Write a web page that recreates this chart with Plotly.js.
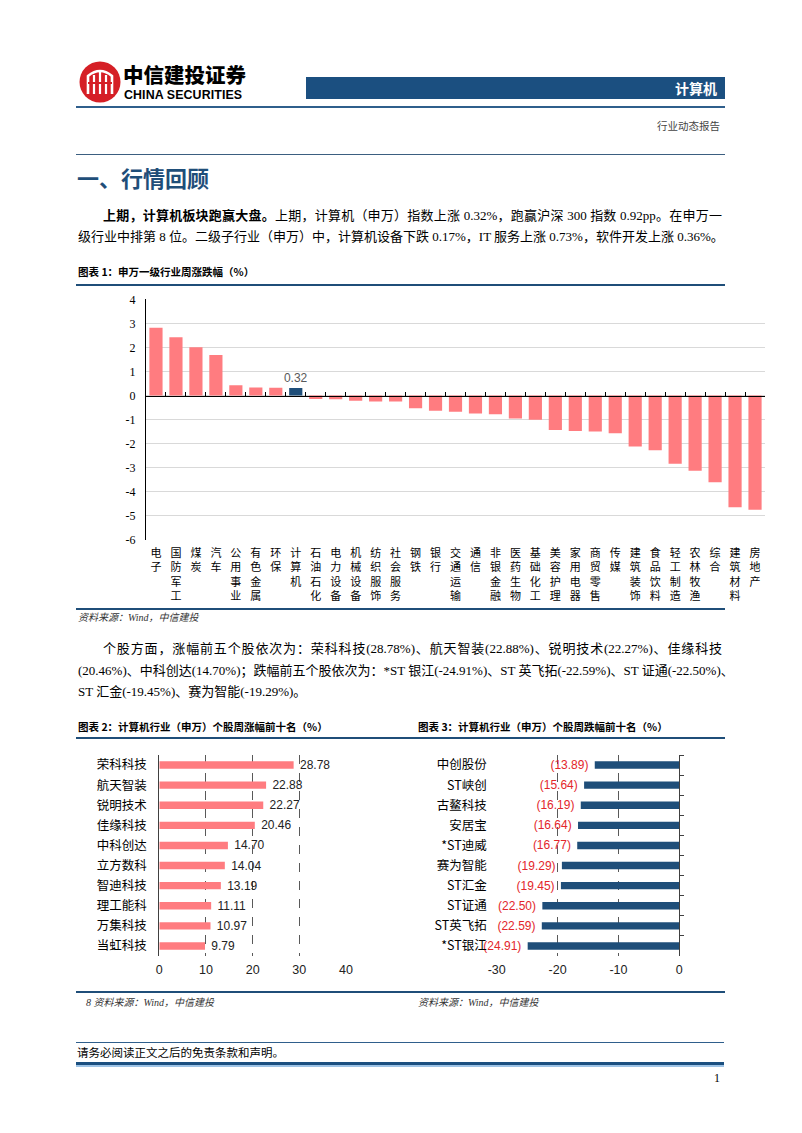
<!DOCTYPE html>
<html>
<head>
<meta charset="utf-8">
<script src="https://cdn.plot.ly/plotly-3.0.1.min.js"></script>
<style>
  body { margin: 0; background: #fff; }
  #page { position: relative; width: 802px; height: 1133px; overflow: hidden; background: #fff;
          font-family: "Liberation Serif", "Noto Sans CJK SC", serif; color: #000; }
  #plot { position: absolute; left: 0; top: 0; width: 802px; height: 1133px; }
  .t { position: absolute; white-space: nowrap; }
  .ln { position: absolute; background: #1F4E79; }
  .para { position: absolute; font-size: 13px; line-height: 20px; height: 20px; white-space: nowrap;
          text-align: justify; text-align-last: justify; }
  .para b { font-family: "Noto Sans CJK SC", sans-serif; font-weight: 700; }
  .figt { position: absolute; font-family: "Noto Sans CJK SC", sans-serif; font-weight: 700; font-size: 10.5px;
          line-height: 14px; white-space: nowrap; }
  .src { position: absolute; font-style: italic; font-size: 10px; line-height: 14px; color: #333; white-space: nowrap; }
</style>
</head>
<body>
<div id="page">
  <div id="plot"></div>

  <!-- header -->
  <svg class="t" style="left:79px;top:61px" width="42" height="42" viewBox="0 0 42 42">
    <circle cx="21" cy="21" r="20.5" fill="#D51F26"/>
    <path d="M9 33 V15 Q21 5 33 15 V33" fill="none" stroke="#fff" stroke-width="2.6"/>
    <line x1="15" y1="14" x2="15" y2="33" stroke="#fff" stroke-width="2.2"/>
    <line x1="21" y1="11" x2="21" y2="33" stroke="#fff" stroke-width="2.2"/>
    <line x1="27" y1="14" x2="27" y2="33" stroke="#fff" stroke-width="2.2"/>
    <line x1="9" y1="22" x2="33" y2="22" stroke="#D51F26" stroke-width="2"/>
  </svg>
  <div class="t" style="left:123px;top:63px;font-family:'Noto Sans CJK SC',sans-serif;font-weight:900;font-size:20.5px;line-height:22px;">中信建投证券</div>
  <div class="t" style="left:124px;top:88.5px;font-family:'Liberation Sans',Arial,sans-serif;font-weight:700;font-size:12.4px;line-height:12px;letter-spacing:0.1px;">CHINA SECURITIES</div>
  <div class="t" style="left:306px;top:77px;width:419px;height:22px;background:#1B4F80;"></div>
  <div class="t" style="left:640px;top:77px;width:77px;height:22px;line-height:22px;text-align:right;color:#fff;font-family:'Noto Sans CJK SC',sans-serif;font-weight:700;font-size:14px;">计算机</div>
  <div class="ln" style="left:76px;top:106px;width:649px;height:1.5px;background:#2F5F8C;"></div>
  <div class="t" style="left:657px;top:120px;font-size:10.5px;line-height:14px;color:#444;">行业动态报告</div>

  <div class="ln" style="left:76px;top:153.5px;width:649px;height:1.5px;background:#3B5E80;"></div>
  <div class="t" style="left:77px;top:162px;font-family:'Noto Sans CJK SC',sans-serif;font-weight:700;font-size:22px;line-height:30px;color:#1F4E79;">一、行情回顾</div>

  <div class="para" style="left:103px;top:205px;width:619px;"><b>上期，计算机板块跑赢大盘。</b>上期，计算机（申万）指数上涨 0.32%，跑赢沪深 300 指数 0.92pp。在申万一</div>
  <div class="para" style="left:78px;top:227px;width:641px;">级行业中排第 8 位。二级子行业（申万）中，计算机设备下跌 0.17%，IT 服务上涨 0.73%，软件开发上涨 0.36%。</div>

  <div class="figt" style="left:78px;top:265px;">图表 1：申万一级行业周涨跌幅（%）</div>
  <div class="ln" style="left:76px;top:284px;width:649px;height:1.5px;"></div>
  <div class="ln" style="left:76px;top:608px;width:649px;height:1.5px;"></div>
  <div class="src" style="left:78px;top:611px;">资料来源：Wind，中信建投</div>

  <div class="para" style="left:103px;top:639px;width:619px;">个股方面，涨幅前五个股依次为：荣科科技(28.78%)、航天智装(22.88%)、锐明技术(22.27%)、佳缘科技</div>
  <div class="para" style="left:78px;top:661px;width:644px;">(20.46%)、中科创达(14.70%)；跌幅前五个股依次为：*ST 银江(-24.91%)、ST 英飞拓(-22.59%)、ST 证通(-22.50%)、</div>
  <div class="para" style="left:78px;top:682px;width:400px;text-align:left;text-align-last:left;">ST 汇金(-19.45%)、赛为智能(-19.29%)。</div>

  <div class="figt" style="left:78px;top:720px;">图表 2：计算机行业（申万）个股周涨幅前十名（%）</div>
  <div class="figt" style="left:418px;top:720px;">图表 3：计算机行业（申万）个股周跌幅前十名（%）</div>
  <div class="ln" style="left:76px;top:737px;width:649px;height:1.5px;"></div>

  <div class="ln" style="left:76px;top:991px;width:649px;height:1.5px;"></div>
  <div class="src" style="left:86px;top:996px;">8 资料来源：Wind，中信建投</div>
  <div class="src" style="left:418px;top:996px;">资料来源：Wind，中信建投</div>

  <!-- footer -->
  <div class="ln" style="left:76px;top:1042px;width:648px;height:1px;background:#2F5F8C;"></div>
  <div class="t" style="left:77px;top:1046px;font-size:11.5px;line-height:15px;">请务必阅读正文之后的免责条款和声明。</div>
  <div class="ln" style="left:76px;top:1062px;width:648px;height:3px;background:#1B4F80;"></div>
  <div class="ln" style="left:76px;top:1065px;width:648px;height:1.5px;background:#9DC3E6;"></div>
  <div class="t" style="left:714px;top:1070px;font-size:12px;line-height:16px;">1</div>
</div>

<script>
// ---------------- data ----------------
const industries = ['电子','国防军工','煤炭','汽车','公用事业','有色金属','环保','计算机','石油石化','电力设备',
  '机械设备','纺织服饰','社会服务','钢铁','银行','交通运输','通信','非银金融','医药生物','基础化工',
  '美容护理','家用电器','商贸零售','传媒','建筑装饰','食品饮料','轻工制造','农林牧渔','综合','建筑材料','房地产'];
const weekChange = [2.82, 2.42, 2.01, 1.69, 0.43, 0.34, 0.33, 0.32, -0.14, -0.15,
  -0.21, -0.25, -0.25, -0.53, -0.63, -0.67, -0.74, -0.78, -0.95, -1.00,
  -1.43, -1.47, -1.49, -1.57, -2.12, -2.27, -2.83, -3.12, -3.60, -4.64, -4.74];
const highlightIndustry = '计算机';
const chart1YTicks = [4, 3, 2, 1, 0, -1, -2, -3, -4, -5, -6];
const chart1YTickText = ['4','3','2','1','0','-1','-2','-3','-4','-5','-6'];

const gainers = ['荣科科技','航天智装','锐明技术','佳缘科技','中科创达','立方数科','智迪科技','理工能科','万集科技','当虹科技'];
const gainValues = [28.78, 22.88, 22.27, 20.46, 14.70, 14.04, 13.19, 11.11, 10.97, 9.79];
const gainXTicks = [0, 10, 20, 30, 40];

const losers = ['中创股份','ST峡创','古鳌科技','安居宝','*ST迪威','赛为智能','ST汇金','ST证通','ST英飞拓','*ST银江'];
const lossValues = [-13.89, -15.64, -16.19, -16.64, -16.77, -19.29, -19.45, -22.50, -22.59, -24.91];
const lossXTicks = [-30, -20, -10, 0];
const lossXTickText = ['-30', '-20', '-10', '0'];

// ---------------- geometry ----------------
const W = 802, H = 1133;
const fx = px => px / W;
const fy = py => 1 - py / H;
const PINK = '#FF7C80', NAVY = '#1F4E79';
const CJK = 'Noto Sans CJK SC, sans-serif';
const SANS = 'Liberation Sans, Arial, sans-serif';
const SERIF = 'Liberation Serif, Noto Sans CJK SC, serif';

const c1 = {l: 146, r: 765, t: 299.3, b: 540};
const y1Range = [-6, 4];
const zeroPos = fy(c1.b) + (0 - y1Range[0]) / (y1Range[1] - y1Range[0]) * (fy(c1.t) - fy(c1.b));
const c2 = {l: 159.3, r: 346, t: 755, b: 956};
const c3 = {l: 496.7, r: 679.3, t: 755, b: 956};

const vertLabels = industries.map(s => s.split('').join('<br>'));
const barColors = industries.map(s => s === highlightIndustry ? NAVY : PINK);
const barText = industries.map((s, i) => s === highlightIndustry ? weekChange[i].toFixed(2) : '');

const nbsp = '\u00a0';
const traces = [
  { type: 'bar', x: industries, y: weekChange, xaxis: 'x', yaxis: 'y', width: 0.66,
    marker: {color: barColors}, text: barText, textposition: 'outside', cliponaxis: false, constraintext: 'none',
    textfont: {family: SANS, size: 12, color: '#595959'}, hoverinfo: 'skip' },
  { type: 'bar', x: industries, y: weekChange, xaxis: 'x2', yaxis: 'y', width: 0.66,
    marker: {color: 'rgba(0,0,0,0)'}, hoverinfo: 'skip' },
  { type: 'bar', orientation: 'h', y: gainers, x: gainValues, xaxis: 'x3', yaxis: 'y3', width: 0.37,
    marker: {color: PINK}, text: gainValues.map(v => nbsp + v.toFixed(2)), textposition: 'outside',
    constraintext: 'none', cliponaxis: false, textfont: {family: SANS, size: 12, color: '#222'}, hoverinfo: 'skip' },
  { type: 'bar', orientation: 'h', y: losers, x: lossValues, xaxis: 'x4', yaxis: 'y4', width: 0.37,
    marker: {color: NAVY}, text: lossValues.map(v => '(' + Math.abs(v).toFixed(2) + ')' + nbsp), textposition: 'outside',
    constraintext: 'none', cliponaxis: false, textfont: {family: SANS, size: 12, color: '#E3262B'}, hoverinfo: 'skip' },
  { type: 'bar', orientation: 'h', y: losers, x: lossValues, xaxis: 'x4', yaxis: 'y5', width: 0.37,
    marker: {color: 'rgba(0,0,0,0)'}, hoverinfo: 'skip' }
];

const n1 = industries.length, n2 = gainers.length, n3 = losers.length;
const layout = {
  width: W, height: H, margin: {l: 0, r: 0, t: 0, b: 0, pad: 0},
  paper_bgcolor: 'rgba(0,0,0,0)', plot_bgcolor: 'rgba(0,0,0,0)', showlegend: false,
  xaxis: { domain: [fx(c1.l), fx(c1.r)], anchor: 'y', type: 'category', range: [-0.5, n1 - 0.5],
    tickmode: 'array', tickvals: industries, ticktext: vertLabels, tickangle: 0, ticks: '',
    showgrid: false, showline: false, zeroline: false, ticklabelstandoff: 5,
    tickfont: {family: CJK, size: 11, color: '#000'} },
  xaxis2: { overlaying: 'x', anchor: 'free', position: zeroPos, type: 'category', range: [-0.5, n1 - 0.5],
    showticklabels: false, showgrid: false, zeroline: false, showline: true, linecolor: '#000', linewidth: 1,
    ticks: 'inside', tickson: 'boundaries', ticklen: 4, tickcolor: '#000', tickwidth: 1 },
  yaxis: { domain: [fy(c1.b), fy(c1.t)], anchor: 'x', range: y1Range, tickmode: 'array',
    tickvals: chart1YTicks, ticktext: chart1YTickText, showgrid: true, gridcolor: '#D9D9D9', gridwidth: 1,
    zeroline: false, showline: true, linecolor: '#000', linewidth: 1, ticks: '', ticklabelstandoff: 7,
    tickfont: {family: SERIF, size: 12, color: '#000'} },

  xaxis3: { domain: [fx(c2.l), fx(c2.r)], anchor: 'y3', range: [0, 40], tickmode: 'array', tickvals: gainXTicks,
    showgrid: true, griddash: 'dash', gridcolor: '#595959', gridwidth: 1, zeroline: false, showline: false,
    ticks: '', ticklabelstandoff: 4, tickfont: {family: SANS, size: 12.5, color: '#222'} },
  yaxis3: { domain: [fy(c2.b), fy(c2.t)], anchor: 'x3', type: 'category', range: [n2 - 0.5, -0.5],
    showgrid: false, zeroline: false, showline: true, linecolor: '#404040', linewidth: 1, ticks: '',
    ticklabelstandoff: 9, tickfont: {family: CJK, size: 12.5, color: '#000'} },

  xaxis4: { domain: [fx(c3.l), fx(c3.r)], anchor: 'y4', range: [-30, 0], tickmode: 'array', tickvals: lossXTicks,
    ticktext: lossXTickText, showgrid: true, griddash: 'dash', gridcolor: '#595959', gridwidth: 1,
    zeroline: false, showline: false, ticks: '', ticklabelstandoff: 4,
    tickfont: {family: SANS, size: 12.5, color: '#222'} },
  yaxis4: { domain: [fy(c3.b), fy(c3.t)], anchor: 'x4', type: 'category', range: [n3 - 0.5, -0.5],
    showgrid: false, zeroline: false, showline: false, ticks: '', ticklabelstandoff: 9,
    tickfont: {family: CJK, size: 12.5, color: '#000'} },
  yaxis5: { overlaying: 'y4', anchor: 'x4', side: 'right', type: 'category', range: [n3 - 0.5, -0.5],
    showticklabels: false, showgrid: false, zeroline: false, showline: true, linecolor: '#404040', linewidth: 1,
    ticks: 'outside', tickson: 'boundaries', ticklen: 4, tickcolor: '#404040' }
};

Plotly.newPlot('plot', traces, layout, {displayModeBar: false, staticPlot: true});
</script>
</body>
</html>
